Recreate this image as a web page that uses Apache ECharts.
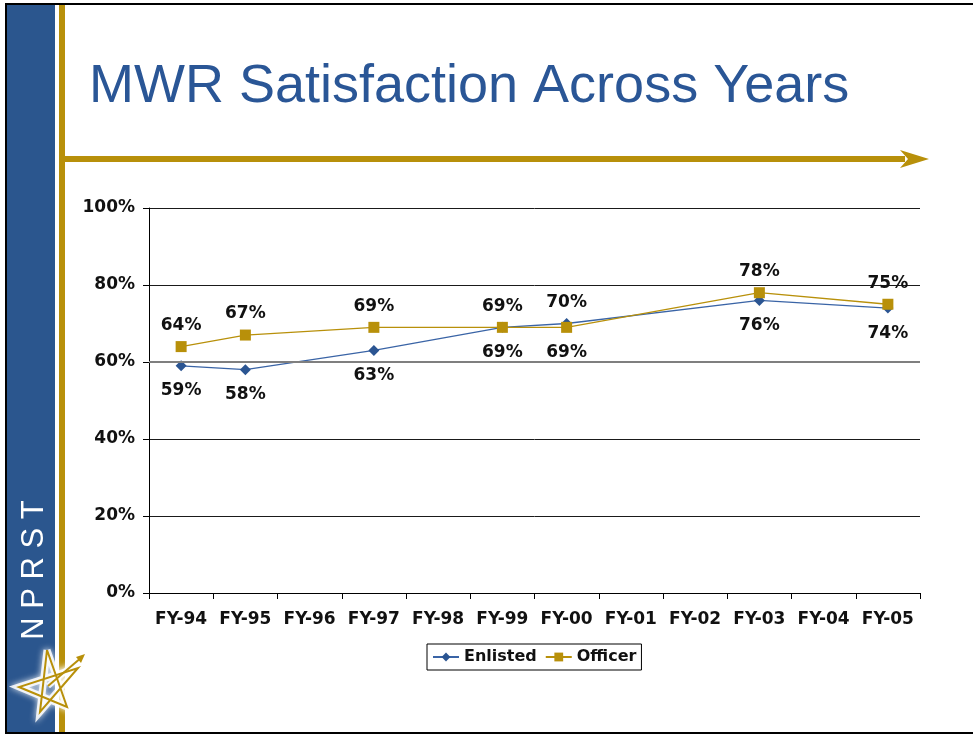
<!DOCTYPE html>
<html>
<head>
<meta charset="utf-8">
<script src="https://cdn.jsdelivr.net/npm/echarts@6/dist/echarts.min.js"></script>
<style>
html,body{margin:0;padding:0;background:#fff;}
#chart{width:973px;height:735px;}
</style>
</head>
<body>
<div id="chart"></div>
<script>
// ---- data ----
var categories = ['FY-94','FY-95','FY-96','FY-97','FY-98','FY-99','FY-00','FY-01','FY-02','FY-03','FY-04','FY-05'];
var enlisted = [59, 58, null, 63, null, 69, 70, null, null, 76, null, 74];
var officer  = [64, 67, null, 69, null, 69, 69, null, null, 78, null, 75];
var yTicks = [0, 20, 40, 60, 80, 100];
var titleText = 'MWR Satisfaction Across Years';
var sideText = 'N P R S T';

// ---- build ----
var BLUE = '#2B5592', GOLD = '#B8900A';

function buildData(vals, other, isEnlisted) {
  return vals.map(function (v, i) {
    if (v == null) return null;
    var o = other[i];
    var pos;
    if (isEnlisted) pos = (o != null && v > o) ? 'top' : 'bottom';
    else pos = (o != null && v < o) ? 'bottom' : 'top';
    return {value: v, label: {position: pos, distance: pos === 'top' ? 7 : 11}};
  });
}

var chart = echarts.init(document.getElementById('chart'), null, {renderer: 'canvas'});

// star points (decorative logo)
var star = [[47,650],[67,707],[19,687],[78,668],[40,712],[47,650]];

var option = {
  backgroundColor: '#fff',
  animation: false,
  graphic: [
    // slide border
    {type: 'rect', shape: {x: 5, y: 3, width: 968, height: 2}, style: {fill: '#000'}, z: 100},
    {type: 'rect', shape: {x: 5, y: 3, width: 2, height: 731}, style: {fill: '#000'}, z: 100},
    {type: 'rect', shape: {x: 5, y: 732, width: 968, height: 2}, style: {fill: '#000'}, z: 100},
    // left blue bar
    {type: 'rect', shape: {x: 7, y: 5, width: 48, height: 727}, style: {fill: '#2B568E'}, z: 1},
    // gold vertical line
    {type: 'rect', shape: {x: 59, y: 5, width: 6, height: 727}, style: {fill: GOLD}, z: 1},
    // gold horizontal line + arrow
    {type: 'rect', shape: {x: 65, y: 156, width: 840, height: 6}, style: {fill: GOLD}, z: 1},
    {type: 'polygon', shape: {points: [[900,150],[929,159],[900,168],[908,159]]}, style: {fill: GOLD}, z: 1},
    // title
    {type: 'text', x: 89, y: 87, style: {text: titleText, fill: '#2A5696', font: '54px "Liberation Sans", Arial, sans-serif', textVerticalAlign: 'middle'}, z: 5},
    // vertical side text
    {type: 'text', x: 34, y: 570, rotation: Math.PI / 2,
      style: {text: sideText, fill: '#fff', font: '300 31px "Liberation Sans", Arial, sans-serif', textAlign: 'center', textVerticalAlign: 'middle'}, z: 5},
    // star logo
    {type: 'polyline', shape: {points: star}, style: {stroke: '#fff', lineWidth: 7, fill: null, opacity: 0.85, shadowBlur: 6, shadowColor: '#fff'}, z: 6},
    {type: 'line', shape: {x1: 48, y1: 686, x2: 82, y2: 657}, style: {stroke: '#fff', lineWidth: 6, opacity: 0.85, shadowBlur: 6, shadowColor: '#fff'}, z: 6},
    {type: 'polyline', shape: {points: star}, style: {stroke: GOLD, lineWidth: 2, fill: null}, z: 7},
    {type: 'line', shape: {x1: 48, y1: 686, x2: 82, y2: 657}, style: {stroke: GOLD, lineWidth: 2}, z: 7},
    {type: 'polygon', shape: {points: [[85,654],[76,657],[81,663]]}, style: {fill: GOLD}, z: 7}
  ],
  grid: {left: 149, right: 53, top: 208, bottom: 142, containLabel: false},
  legend: {
    data: ['Enlisted', 'Officer'],
    left: 427, top: 644,
    borderColor: '#000', borderWidth: 1, borderRadius: 0,
    padding: [5, 5, 5, 5],
    itemGap: 8, itemWidth: 26, itemHeight: 11,
    textStyle: {fontFamily: 'DejaVu Sans', fontWeight: 'bold', fontSize: 16, color: '#111'}
  },
  xAxis: {
    type: 'category', data: categories, boundaryGap: true,
    axisLine: {show: true, lineStyle: {color: '#000', width: 1}},
    axisTick: {show: true, length: 6, lineStyle: {color: '#000'}},
    axisLabel: {margin: 18, fontFamily: 'DejaVu Sans', fontWeight: 'bold', fontSize: 17, color: '#111', interval: 0},
    splitLine: {show: false}
  },
  yAxis: {
    type: 'value', min: yTicks[0], max: yTicks[yTicks.length - 1], interval: 20,
    axisLine: {show: true, lineStyle: {color: '#000', width: 1}},
    axisTick: {show: true, length: 6, lineStyle: {color: '#000'}},
    axisLabel: {margin: 14, formatter: '{value}%', fontFamily: 'DejaVu Sans', fontWeight: 'bold', fontSize: 17, color: '#111'},
    splitLine: {show: true, lineStyle: {color: '#1a1a1a', width: 1}}
  },
  series: [
    {
      name: 'Enlisted', type: 'line', connectNulls: true,
      data: buildData(enlisted, officer, true),
      symbol: 'diamond', symbolSize: 11,
      itemStyle: {color: BLUE},
      lineStyle: {color: '#3A64A6', width: 1.3},
      label: {show: true, formatter: '{c}%', fontFamily: 'DejaVu Sans', fontWeight: 'bold', fontSize: 17, color: '#111'},
      markLine: {silent: true, symbol: 'none', label: {show: false},
        lineStyle: {color: '#7f7f7f', width: 2, type: 'solid'}, data: [{yAxis: 60}]},
      z: 3
    },
    {
      name: 'Officer', type: 'line', connectNulls: true,
      data: buildData(officer, enlisted, false),
      symbol: 'rect', symbolSize: 11,
      itemStyle: {color: GOLD},
      lineStyle: {color: GOLD, width: 1.3},
      label: {show: true, formatter: '{c}%', fontFamily: 'DejaVu Sans', fontWeight: 'bold', fontSize: 17, color: '#111'},
      z: 4
    }
  ]
};
chart.setOption(option);
</script>
</body>
</html>
